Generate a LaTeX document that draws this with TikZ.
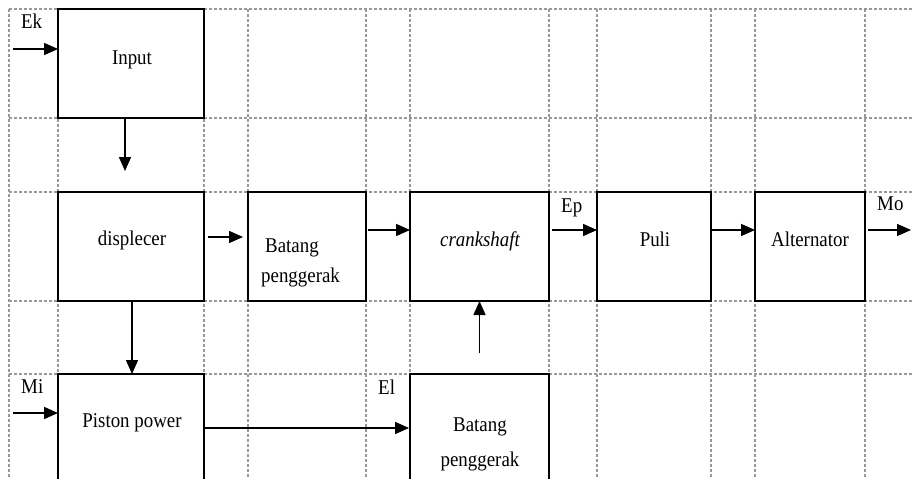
\documentclass[tikz,border=0pt]{standalone}
\usepackage{fontspec}
\setmainfont{Liberation Serif}[FakeStretch=0.9]
\usetikzlibrary{arrows.meta}
\begin{document}
\begin{tikzpicture}[x=1pt,y=-1pt,
  gridline/.style={draw=black!40,line width=1.1pt,dash pattern=on 3pt off 2pt},
  blk/.style={draw=black,line width=1.6pt,inner sep=0pt,outer sep=0pt,rectangle},
  arr/.style={draw=black,line width=1.5pt,-{Triangle[length=14pt,width=12pt]}},
  lbl/.style={inner sep=0pt,font=\fontsize{21}{24}\selectfont},
]
\useasboundingbox (0,0) rectangle (913,479);
\clip (0,0) rectangle (913,479);
\fill[white] (0,0) rectangle (913,479);
% grid
\foreach \gx in {9,58,204,248,366,410,549,597,711,755,865}
  \draw[gridline] (\gx,9) -- (\gx,480);
\foreach \gy in {9,118,192,301,374}
  \draw[gridline] (9,\gy) -- (914,\gy);
% boxes
\node[blk,minimum width=146pt,minimum height=109pt] (inp) at (131,63.5) {};
\node[blk,minimum width=146pt,minimum height=109pt] (disp) at (131,246.5) {};
\node[blk,minimum width=118pt,minimum height=109pt] (bat1) at (307,246.5) {};
\node[blk,minimum width=139pt,minimum height=109pt] (crank) at (479.5,246.5) {};
\node[blk,minimum width=114pt,minimum height=109pt] (puli) at (654,246.5) {};
\node[blk,minimum width=110pt,minimum height=109pt] (alt) at (810,246.5) {};
\node[blk,minimum width=146pt,minimum height=146pt] (pist) at (131,447) {};
\node[blk,minimum width=139pt,minimum height=146pt] (bat2) at (479.5,447) {};
% texts
\node[lbl,anchor=base] (tinp) at (132,64) {Input};
\node[lbl,anchor=base] (tdisp) at (132,245) {displecer};
\node[lbl,anchor=base west] (tbat1a) at (265,252) {Batang};
\node[lbl,anchor=base west] (tbat1b) at (261,282) {penggerak};
\node[lbl,anchor=base] (tcrank) at (480,246) {\itshape crankshaft};
\node[lbl,anchor=base] (tpuli) at (655,246) {Puli};
\node[lbl,anchor=base] (talt) at (810,246) {Alternator};
\node[lbl,anchor=base] (tpist) at (132,427) {Piston power};
\node[lbl,anchor=base] (tbat2a) at (480,431) {Batang};
\node[lbl,anchor=base] (tbat2b) at (480,466) {penggerak};
% labels
\node[lbl,anchor=base west] (ek) at (21,28) {Ek};
\node[lbl,anchor=base west] (mi) at (21,393) {Mi};
\node[lbl,anchor=base west] (el) at (378,394) {El};
\node[lbl,anchor=base west] (ep) at (561,212) {Ep};
\node[lbl,anchor=base west] (mo) at (877,210) {Mo};
% free ends
\coordinate (ekin) at (13,49);
\coordinate (miin) at (13,413);
\coordinate (inpout) at (125,171);
\coordinate (moout) at (911,230);
% connectors
\draw[arr] (ekin) -- ([yshift=14.5pt]inp.west);
\draw[arr] ([xshift=-6pt]inp.south) -- (inpout);
\draw[arr] ([xshift=4pt,yshift=9.5pt]disp.east) -- ([xshift=-5pt,yshift=9.5pt]bat1.west);
\draw[arr] ([xshift=2pt,yshift=16.5pt]bat1.east) -- ([yshift=16.5pt]crank.west);
\draw[arr] ([xshift=3pt,yshift=16.5pt]crank.east) -- ([yshift=16.5pt]puli.west);
\draw[arr] ([xshift=1pt,yshift=16.5pt]puli.east) -- ([yshift=16.5pt]alt.west);
\draw[arr] ([xshift=3pt,yshift=16.5pt]alt.east) -- (moout);
\draw[arr] ([xshift=1pt]disp.south) -- ([xshift=1pt]pist.north);
\draw[arr] ([yshift=21pt]bat2.north) -- (crank.south);
\draw[arr] (miin) -- ([yshift=34pt]pist.west);
\draw[arr] ([xshift=1pt,yshift=19pt]pist.east) -- ([xshift=-1pt,yshift=19pt]bat2.west);
\end{tikzpicture}
\end{document}
